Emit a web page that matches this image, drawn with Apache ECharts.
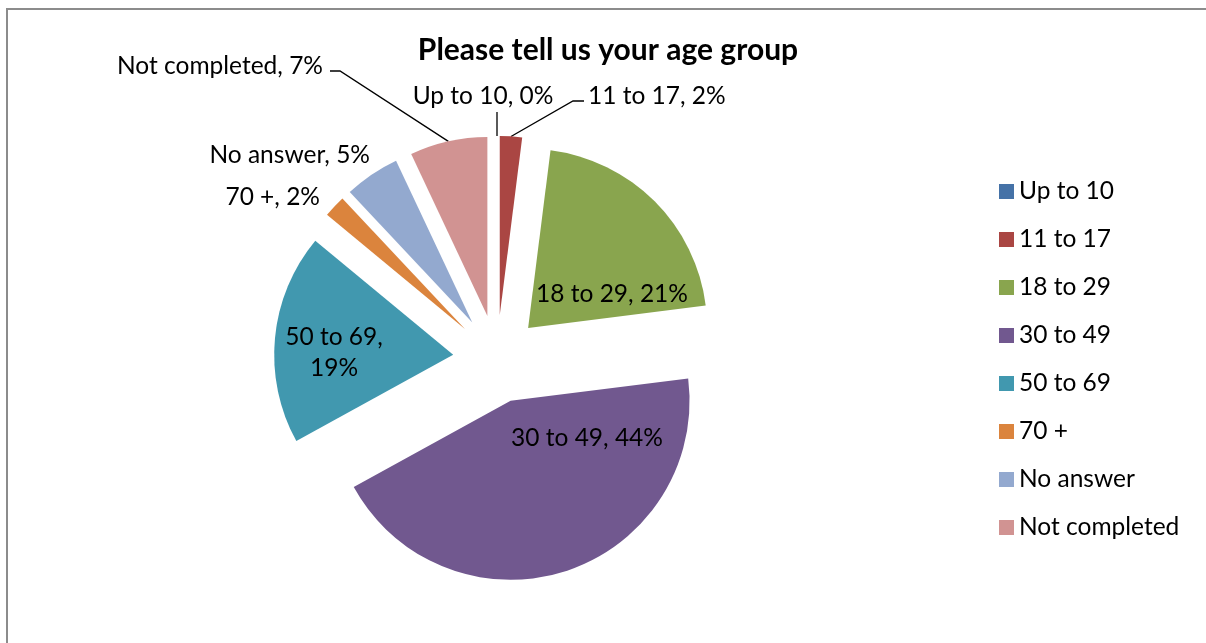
<!DOCTYPE html>
<html>
<head>
<meta charset="utf-8">
<script src="https://cdn.jsdelivr.net/npm/echarts@6/dist/echarts.min.js"></script>
<style>
  html, body { margin: 0; padding: 0; background: #fff; }
  #chart { width: 1206px; height: 643px; }
</style>
</head>
<body>
<div id="chart"></div>
<script>
// Age groups and their share of responses (percent)
const categories = ['Up to 10', '11 to 17', '18 to 29', '30 to 49', '50 to 69', '70 +', 'No answer', 'Not completed'];
const shares = [0, 2, 21, 44, 19, 2, 5, 7];
const sliceColors = ['#4572A7', '#AA4643', '#89A54E', '#71588F', '#4198AF', '#DB843D', '#93A9CF', '#D19392'];

const FONT = 'Lato, "Liberation Sans", sans-serif';
const PIE_CENTER = [497, 359];
const PIE_RADIUS = 179;
const EXPLODE = 44;

// Label anchors; `line` holds the elbow/end points of a leader line
const labelSpots = [
  { x: 483, y: 96, align: 'center', line: [[497, 112]] },
  { x: 588, y: 96, align: 'left', line: [[573, 101], [584, 101]] },
  { x: 612, y: 294, align: 'center' },
  { x: 587, y: 438, align: 'center' },
  { x: 334, y: 353, align: 'center', wrap: true },
  { x: 320, y: 197, align: 'right' },
  { x: 370, y: 155, align: 'right' },
  { x: 323, y: 66, align: 'right', line: [[340, 71], [330, 71]] }
];

// Explode offset of each slice along its bisector (12 o'clock start, clockwise)
const total = shares.reduce((a, b) => a + b, 0);
const sliceShift = [];
let running = 0;
shares.forEach(v => {
  const mid = (running + v / 2) / total * 2 * Math.PI;
  sliceShift.push([EXPLODE * Math.sin(mid), -EXPLODE * Math.cos(mid)]);
  running += v;
});

const pieData = categories.map((name, i) => ({
  name: name,
  value: shares[i],
  selected: true,
  itemStyle: { color: sliceColors[i] },
  label: labelSpots[i].wrap ? { formatter: '{b},\n{c}%' } : {},
  labelLine: { show: !!labelSpots[i].line }
}));

const H_FRAC = { left: 0, center: 0.5, right: 1 };
const V_FRAC = { top: 0, middle: 0.5, bottom: 1 };

const chart = echarts.init(document.getElementById('chart'), null, { renderer: 'canvas' });

chart.setOption({
  animation: false,
  backgroundColor: '#ffffff',
  title: {
    text: 'Please tell us your age group',
    left: 608,
    top: 35,
    padding: 0,
    textAlign: 'center',
    textStyle: { fontFamily: FONT, fontWeight: 'bold', fontSize: 30, color: '#000' }
  },
  legend: {
    orient: 'vertical',
    left: 999,
    top: 179,
    padding: 0,
    itemWidth: 15,
    itemHeight: 15,
    itemGap: 23,
    icon: 'rect',
    selectedMode: false,
    data: categories,
    textStyle: { fontFamily: FONT, fontSize: 24.5, lineHeight: 24, color: '#000' }
  },
  graphic: [{
    type: 'rect',
    silent: true,
    shape: { x: 7, y: 9, width: 1300, height: 700 },
    style: { fill: null, stroke: '#8c8c8c', lineWidth: 2 }
  }],
  series: [{
    type: 'pie',
    center: PIE_CENTER,
    radius: PIE_RADIUS,
    startAngle: 90,
    clockwise: true,
    selectedMode: 'multiple',
    selectedOffset: EXPLODE,
    avoidLabelOverlap: false,
    emphasis: { disabled: true },
    itemStyle: { borderWidth: 0 },
    label: {
      show: true,
      position: 'outside',
      formatter: '{b}, {c}%',
      fontFamily: FONT,
      fontSize: 24.5,
      lineHeight: 31,
      color: '#000'
    },
    labelLine: {
      lineStyle: { color: '#000', width: 1.3 }
    },
    labelLayout: function (params) {
      const i = params.dataIndex;
      const spot = labelSpots[i];
      const shift = sliceShift[i];
      const r = params.labelRect;
      // move the label from where the pie put it (before exploding) to its anchor
      const fromX = r.x + r.width * (H_FRAC[params.align] ?? 0) + shift[0];
      const fromY = r.y + r.height * (V_FRAC[params.verticalAlign] ?? 0.5) + shift[1];
      const out = {
        dx: spot.x - fromX,
        dy: spot.y - fromY,
        align: spot.align,
        verticalAlign: 'middle'
      };
      if (spot.line && params.labelLinePoints) {
        // leader line starts on the slice's outer arc; its element is shifted
        // by the explode offset, so express the other points in that frame
        const p0 = params.labelLinePoints[0];
        out.labelLinePoints = [p0].concat(spot.line.map(p => [p[0] - shift[0], p[1] - shift[1]]));
      }
      return out;
    },
    data: pieData
  }]
});
</script>
</body>
</html>
